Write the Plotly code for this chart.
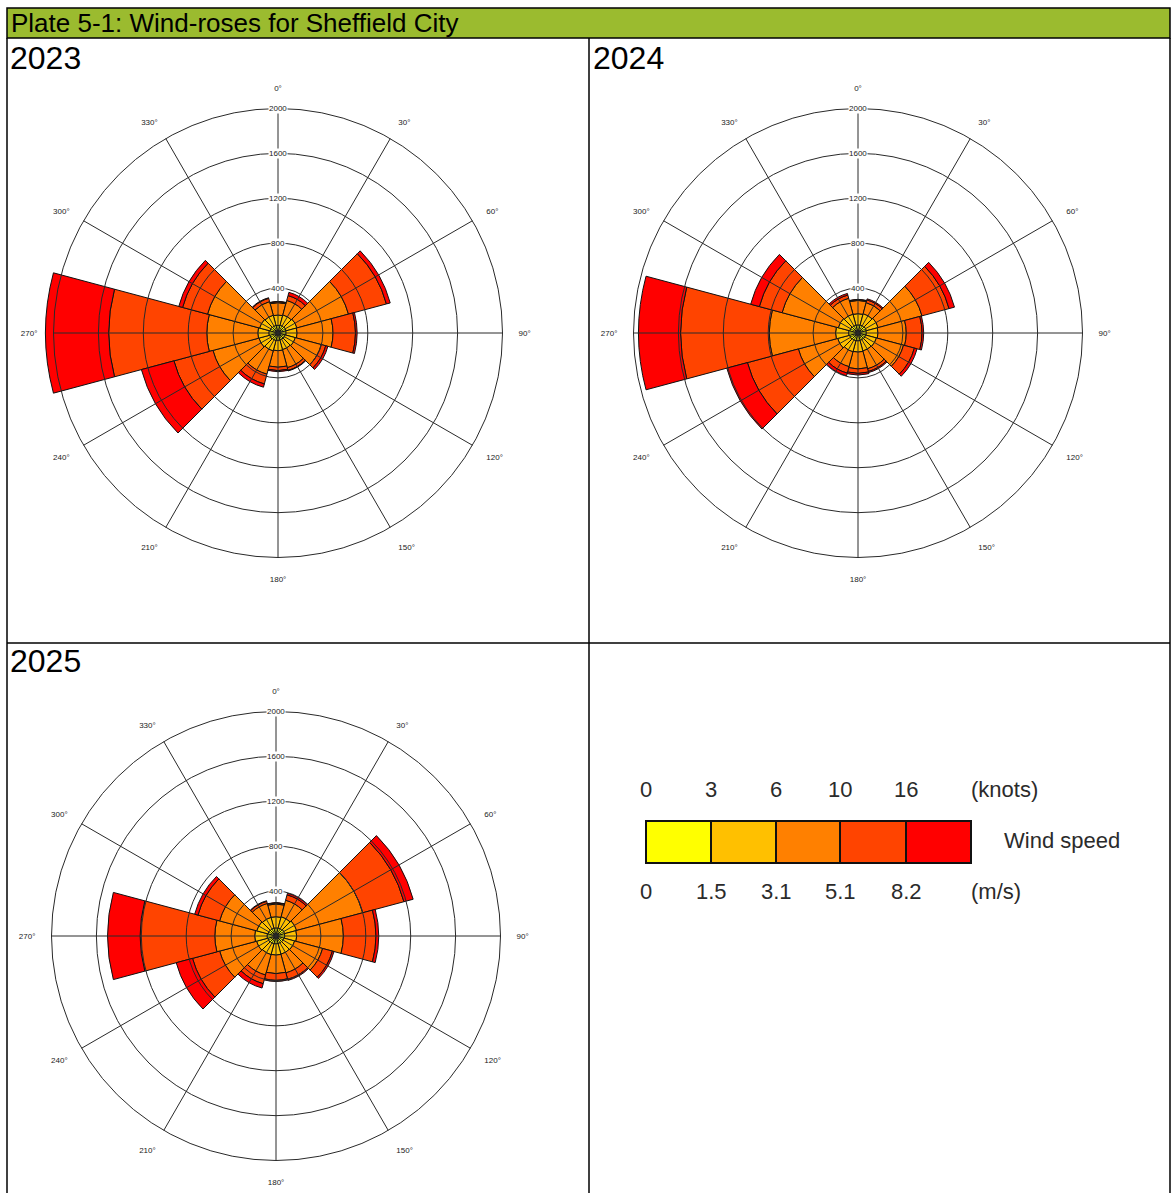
import plotly.graph_objects as go

# Page size in pixels
W, H = 1171, 1193

# Wind direction sectors (degrees, 30-degree sectors)
directions = [0, 30, 60, 90, 120, 150, 180, 210, 240, 270, 300, 330]

# Speed classes
bin_names = ["0-1.5 m/s", "1.5-3.1 m/s", "3.1-5.1 m/s", "5.1-8.2 m/s", ">8.2 m/s"]
bin_colors = ["#FFFF00", "#FFC000", "#FF8000", "#FF4400", "#FF0000"]
knots_labels = ["0", "3", "6", "10", "16"]
ms_labels = ["0", "1.5", "3.1", "5.1", "8.2"]

# Hours per sector for each speed class (same order as directions)
hours_2023 = [
    [68, 72, 75, 72, 66, 64, 66, 70, 76, 82, 74, 70],
    [92, 95, 100, 98, 94, 90, 92, 96, 100, 98, 96, 94],
    [110, 133, 475, 320, 240, 166, 147, 214, 424, 454, 480, 126],
    [10, 45, 350, 200, 40, 25, 30, 90, 360, 874, 230, 30],
    [2, 30, 35, 15, 20, 5, 10, 30, 300, 563, 35, 5],
]
hours_2024 = [
    [72, 74, 78, 74, 70, 68, 70, 72, 78, 84, 76, 72],
    [100, 104, 108, 104, 100, 98, 100, 102, 110, 116, 106, 102],
    [118, 102, 404, 252, 250, 164, 150, 136, 362, 590, 518, 146],
    [8, 25, 250, 140, 100, 25, 40, 60, 470, 790, 210, 30],
    [2, 10, 50, 15, 25, 10, 15, 25, 190, 375, 80, 15],
]
hours_2025 = [
    [72, 74, 80, 78, 72, 70, 70, 72, 76, 80, 74, 72],
    [100, 104, 110, 106, 100, 98, 100, 100, 104, 110, 104, 100],
    [113, 152, 610, 416, 258, 172, 165, 188, 340, 355, 342, 128],
    [10, 50, 380, 290, 90, 60, 60, 80, 250, 665, 200, 20],
    [3, 15, 85, 25, 15, 10, 10, 40, 150, 290, 30, 5],
]

years = ["2023", "2024", "2025"]
year_hours = [hours_2023, hours_2024, hours_2025]

ring_values = [400, 800, 1200, 1600, 2000]
R_MAX = 2000      # outer ring value
R_BARS = 2100     # bar subplot range (bars may pass the outer ring)

# Layout of the plate (pixel positions)
rose_centers = [(278, 333), (858, 333), (276, 936)]
R_PX = 224.5
year_title_pos = [(8, 58), (591, 58), (8, 661)]

FONT = "Liberation Sans, Arial, sans-serif"


def px_x(px):
    return px / W


def px_y(py):
    return 1 - py / H


def domain(cx, cy, r):
    return dict(x=[px_x(cx - r), px_x(cx + r)], y=[px_y(cy + r), px_y(cy - r)])


fig = go.Figure()
layout_polars = {}

# Bar subplots (drawn first, below the grids)
for i, (year, hours) in enumerate(zip(years, year_hours)):
    pid = "polar" if i == 0 else f"polar{i + 1}"
    for b in range(5):
        fig.add_trace(go.Barpolar(
            r=hours[b], theta=directions, width=30,
            name=bin_names[b], subplot=pid,
            marker=dict(color=bin_colors[b], line=dict(color="#111", width=1)),
            hovertemplate=year + " %{theta}°: %{r} (" + bin_names[b] + ")<extra></extra>",
        ))
    cx, cy = rose_centers[i]
    layout_polars[pid] = dict(
        domain=domain(cx, cy, R_PX * R_BARS / R_MAX),
        bgcolor="rgba(0,0,0,0)",
        barmode="stack",
        radialaxis=dict(range=[0, R_BARS], visible=False),
        angularaxis=dict(rotation=90, direction="clockwise", visible=False),
    )

# Grid subplots drawn over the bars
for i, year in enumerate(years):
    pid = f"polar{i + 4}"
    fig.add_trace(go.Scatterpolar(
        r=[0], theta=[0], mode="markers", subplot=pid,
        marker=dict(size=1, opacity=0), hoverinfo="skip", showlegend=False,
    ))
    cx, cy = rose_centers[i]
    layout_polars[pid] = dict(
        domain=domain(cx, cy, R_PX),
        bgcolor="rgba(0,0,0,0)",
        radialaxis=dict(
            range=[0, R_MAX], tickvals=ring_values, showticklabels=False,
            showline=False, ticks="", gridcolor="#2a2a2a", gridwidth=1,
        ),
        angularaxis=dict(
            rotation=90, direction="clockwise",
            tickvals=directions, ticktext=[f"{d}°" for d in directions],
            tickfont=dict(family=FONT, size=8, color="#222"),
            ticks="outside", ticklen=14, tickcolor="rgba(0,0,0,0)",
            showline=True, linecolor="#2a2a2a", linewidth=1,
            gridcolor="#2a2a2a", gridwidth=1,
        ),
    )

annotations = []
# Ring labels on the north spoke
for (cx, cy) in rose_centers:
    for v in ring_values:
        annotations.append(dict(
            x=px_x(cx), y=px_y(cy - v / R_MAX * R_PX), xref="paper", yref="paper",
            text=str(v), showarrow=False, xanchor="center", yanchor="middle",
            font=dict(family=FONT, size=8, color="#222"),
            bgcolor="white", borderpad=0,
        ))

# Year titles
for year, (tx, ty) in zip(years, year_title_pos):
    annotations.append(dict(
        x=px_x(tx), y=px_y(ty), xref="paper", yref="paper", text=year,
        showarrow=False, xanchor="left", yanchor="middle",
        font=dict(family=FONT, size=32, color="black"),
    ))

# Plate title
annotations.append(dict(
    x=px_x(9), y=px_y(23), xref="paper", yref="paper",
    text="Plate 5-1: Wind-roses for Sheffield City", showarrow=False,
    xanchor="left", yanchor="middle",
    font=dict(family=FONT, size=26, color="black"),
))

# Speed-class key
key_x = [646, 711, 776, 840, 906, 971]
key_top, key_bot = 821, 863
key_font = dict(family=FONT, size=22, color="#2b2b2b")
for lbl, x in zip(knots_labels, key_x):
    annotations.append(dict(x=px_x(x), y=px_y(789), xref="paper", yref="paper",
                            text=lbl, showarrow=False, xanchor="center",
                            yanchor="middle", font=key_font))
for lbl, x in zip(ms_labels, key_x):
    annotations.append(dict(x=px_x(x), y=px_y(891), xref="paper", yref="paper",
                            text=lbl, showarrow=False, xanchor="center",
                            yanchor="middle", font=key_font))
annotations.append(dict(x=px_x(969), y=px_y(789), xref="paper", yref="paper",
                        text="(knots)", showarrow=False, xanchor="left",
                        yanchor="middle", font=key_font))
annotations.append(dict(x=px_x(969), y=px_y(891), xref="paper", yref="paper",
                        text="(m/s)", showarrow=False, xanchor="left",
                        yanchor="middle", font=key_font))
annotations.append(dict(x=px_x(1002), y=px_y(840), xref="paper", yref="paper",
                        text="Wind speed", showarrow=False, xanchor="left",
                        yanchor="middle", font=key_font))

shapes = []
# Plate header and cell borders
shapes.append(dict(type="rect", xref="paper", yref="paper",
                   x0=px_x(7), x1=px_x(1170), y0=px_y(38), y1=px_y(8),
                   fillcolor="#9bbb2f", line=dict(color="black", width=1.5),
                   layer="below"))
for x in (7, 589, 1170):
    shapes.append(dict(type="line", xref="paper", yref="paper",
                       x0=px_x(x), x1=px_x(x), y0=px_y(38), y1=px_y(1193),
                       line=dict(color="black", width=1.5)))
shapes.append(dict(type="line", xref="paper", yref="paper",
                   x0=px_x(7), x1=px_x(1170), y0=px_y(643), y1=px_y(643),
                   line=dict(color="black", width=1.5)))
# Key swatches
for b in range(5):
    shapes.append(dict(type="rect", xref="paper", yref="paper",
                       x0=px_x(key_x[b]), x1=px_x(key_x[b + 1]),
                       y0=px_y(key_bot), y1=px_y(key_top),
                       fillcolor=bin_colors[b], line=dict(color="#111", width=2)))

fig.update_layout(
    width=W, height=H,
    margin=dict(l=0, r=0, t=0, b=0),
    paper_bgcolor="white",
    plot_bgcolor="white",
    showlegend=False,
    annotations=annotations,
    shapes=shapes,
    **layout_polars,
)

fig.write_html("out.html")
